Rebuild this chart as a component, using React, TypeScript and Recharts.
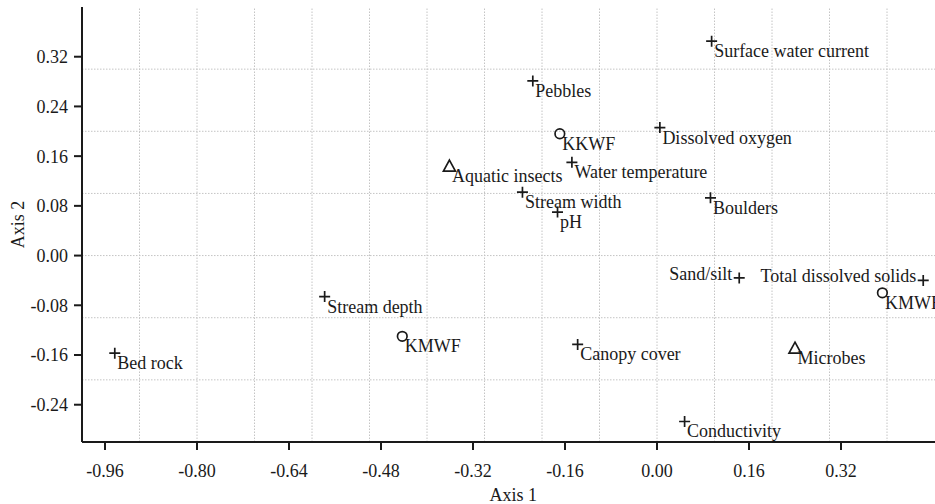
import React from 'react';
import { ScatterChart, Scatter, XAxis, YAxis, ReferenceLine } from 'recharts';

// environmental variables (plotted as crosses)
const crossNames = [
  'Surface water current', 'Pebbles', 'Dissolved oxygen', 'Water temperature', 'Stream width', 'pH',
  'Boulders', 'Sand/silt', 'Total dissolved solids', 'Stream depth', 'Bed rock', 'Canopy cover', 'Conductivity',
];
const crossAxis1 = [0.095, -0.216, 0.005, -0.148, -0.234, -0.173, 0.093, 0.143, 0.463, -0.578, -0.943, -0.138, 0.048];
const crossAxis2 = [0.345, 0.281, 0.206, 0.150, 0.102, 0.070, 0.093, -0.036, -0.040, -0.066, -0.157, -0.143, -0.267];

// sites (circles)
const siteNames = ['KKWF', 'KMWF', 'KMWF'];
const siteAxis1 = [-0.169, -0.443, 0.392];
const siteAxis2 = [0.196, -0.130, -0.060];

// organism groups (triangles)
const groupNames = ['Aquatic insects', 'Microbes'];
const groupAxis1 = [-0.361, 0.240];
const groupAxis2 = [0.144, -0.149];

const xTicks = [-0.96, -0.8, -0.64, -0.48, -0.32, -0.16, 0, 0.16, 0.32];
const yTicks = [-0.24, -0.16, -0.08, 0, 0.08, 0.16, 0.24, 0.32];
const xGrid = [-0.9, -0.8, -0.7, -0.6, -0.5, -0.4, -0.3, -0.2, -0.1, 0, 0.1, 0.2, 0.3, 0.4];
const yGrid = [-0.2, -0.1, 0, 0.1, 0.2, 0.3];

// labels drawn to the left of their marker
const leftLabelled = ['Sand/silt', 'Total dissolved solids'];

const toPoints = (names: string[], xs: number[], ys: number[]) =>
  names.map((name, i) => ({ name, x: xs[i], y: ys[i] }));

const crossData = toPoints(crossNames, crossAxis1, crossAxis2);
const siteData = toPoints(siteNames, siteAxis1, siteAxis2);
const groupData = toPoints(groupNames, groupAxis1, groupAxis2);

const INK = '#1a1a1a';
const FONT = '"Liberation Serif", "Times New Roman", serif';

const PointLabel = ({ cx, cy, name }: { cx: number; cy: number; name: string }) => {
  const left = leftLabelled.includes(name);
  return (
    <text
      x={left ? cx - 7 : cx + 2.5}
      y={left ? cy + 2 : cy + 16}
      textAnchor={left ? 'end' : 'start'}
      fill={INK}
      fontSize={18}
      fontFamily={FONT}
    >
      {name}
    </text>
  );
};

const CrossShape = (props: any) => {
  const { cx, cy, payload } = props;
  return (
    <g>
      <path d={`M${cx - 5.5},${cy}H${cx + 5.5}M${cx},${cy - 5.5}V${cy + 5.5}`} stroke={INK} strokeWidth={1.7} fill="none" />
      <PointLabel cx={cx} cy={cy} name={payload.name} />
    </g>
  );
};

const CircleShape = (props: any) => {
  const { cx, cy, payload } = props;
  return (
    <g>
      <circle cx={cx} cy={cy} r={4.8} stroke={INK} strokeWidth={1.7} fill="none" />
      <PointLabel cx={cx} cy={cy} name={payload.name} />
    </g>
  );
};

const TriangleShape = (props: any) => {
  const { cx, cy, payload } = props;
  return (
    <g>
      <path d={`M${cx},${cy - 6}L${cx + 6},${cy + 5}L${cx - 6},${cy + 5}Z`} stroke={INK} strokeWidth={1.7} fill="none" />
      <PointLabel cx={cx} cy={cy} name={payload.name} />
    </g>
  );
};

const tickStyle = { fill: INK, fontSize: 18, fontFamily: FONT };
const gridProps = { stroke: '#c4c4c4', strokeDasharray: '1.5 1.5', strokeWidth: 1 };

export default function App() {
  return (
    <div style={{ position: 'absolute', left: 0, top: 0, width: 935, height: 504, overflow: 'hidden', background: '#fff' }}>
      <ScatterChart width={950} height={504} margin={{ top: 7, right: 5.5, bottom: 0, left: 0 }}>
        {xGrid.map(v => (
          <ReferenceLine key={`gx${v}`} x={v} {...gridProps} />
        ))}
        {yGrid.map(v => (
          <ReferenceLine key={`gy${v}`} y={v} {...gridProps} />
        ))}
        <XAxis
          type="number"
          dataKey="x"
          domain={[-1, 0.5]}
          ticks={xTicks}
          tickFormatter={(v: number) => v.toFixed(2)}
          tick={tickStyle}
          tickSize={8}
          tickMargin={14}
          height={62}
          stroke={INK}
          strokeWidth={2}
          allowDataOverflow
          label={{ value: 'Axis 1', position: 'insideBottom', offset: 3, fill: INK, fontSize: 18, fontFamily: FONT }}
        />
        <YAxis
          type="number"
          dataKey="y"
          domain={[-0.3, 0.4]}
          ticks={yTicks}
          tickFormatter={(v: number) => v.toFixed(2)}
          tick={tickStyle}
          tickSize={8}
          tickMargin={6}
          width={82}
          stroke={INK}
          strokeWidth={2}
          allowDataOverflow
          label={{
            value: 'Axis 2',
            angle: -90,
            position: 'insideLeft',
            textAnchor: 'middle',
            offset: 18,
            fill: INK,
            fontSize: 18,
            fontFamily: FONT,
          }}
        />
        <Scatter data={crossData} shape={CrossShape} isAnimationActive={false} />
        <Scatter data={siteData} shape={CircleShape} isAnimationActive={false} />
        <Scatter data={groupData} shape={TriangleShape} isAnimationActive={false} />
      </ScatterChart>
    </div>
  );
}
